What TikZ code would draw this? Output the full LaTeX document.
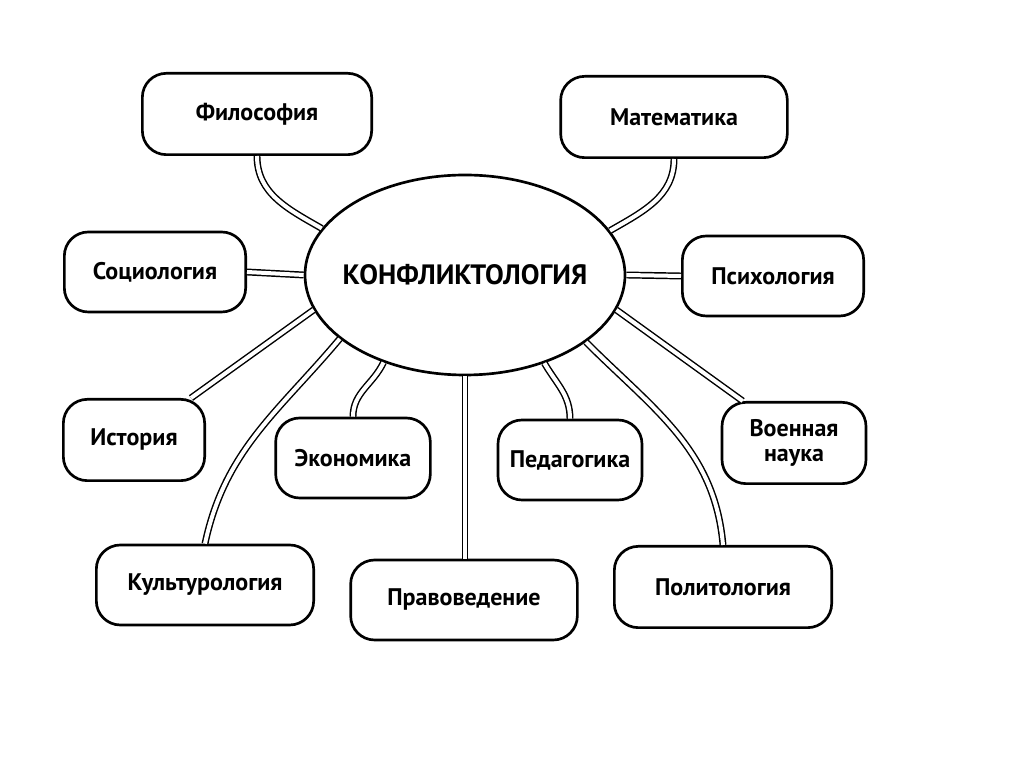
\documentclass[tikz,border=0pt]{standalone}
\usepackage{fontspec}
\setmainfont{PT Sans}
\usetikzlibrary{shapes.geometric,calc}
\begin{document}
\begin{tikzpicture}[x=0.75pt,y=0.75pt,
  box/.style={draw,line width=2pt,rounded corners=18pt,align=center,font=\bfseries\fontsize{18}{19}\selectfont,inner sep=0pt},
  link/.style={draw,line width=1.1pt,double=white,double distance=3pt}]
\useasboundingbox (0,0) rectangle (1024,767);
\node[ellipse,draw,line width=2pt,minimum width=240pt,minimum height=150pt,inner sep=0pt] (ell) at (465,492) {};
\node[font=\bfseries\fontsize{21}{23}\selectfont] (elltxt) at (ell.center) {КОНФЛИКТОЛОГИЯ};
\node[box,minimum width=172pt,minimum height=61pt] (phil) at (257,653) {Философия};
\node[box,minimum width=170pt,minimum height=61pt] (math) at (674,650) {Математика};
\node[box,minimum width=136pt,minimum height=60pt] (soc) at (155,495) {Социология};
\node[box,minimum width=136pt,minimum height=60pt] (psy) at (773,491) {Психология};
\node[box,minimum width=106pt,minimum height=61pt] (hist) at (134,327) {История};
\node[box,minimum width=116pt,minimum height=60pt] (econ) at (353,309) {Экономика};
\node[box,minimum width=108pt,minimum height=60pt] (ped) at (570,307) {Педагогика};
\node[box,minimum width=108pt,minimum height=61pt] (voen) at (794,324) {Военная\\наука};
\node[box,minimum width=163pt,minimum height=60pt] (kult) at (205,182) {Культурология};
\node[box,minimum width=170pt,minimum height=60pt] (prav) at (464,167) {Правоведение};
\node[box,minimum width=163pt,minimum height=61pt] (pol) at (723,180) {Политология};
\path[link] (ell.162) to[out=150,in=-90] (phil.south);
\path[link] (ell.17) to[out=30,in=-90] (math.south);
\path[link] (ell.west) -- (soc.east);
\path[link] (ell.east) -- (psy.west);
\path[link] (ell.193) -- ($(hist.north east)+(-15,0)$);
\path[link] (ell.207) to[out=230,in=78] (kult.north);
\path[link] (ell.227) to[out=245,in=90] (econ.north);
\path[link] (ell.south) -- (ell.south |- prav.north);
\path[link] (ell.312) to[out=-60,in=90] (ped.north);
\path[link] (ell.331) to[out=-45,in=95] (pol.north);
\path[link] (ell.347) -- ($(voen.north west)+(22,0)$);
\end{tikzpicture}
\end{document}
